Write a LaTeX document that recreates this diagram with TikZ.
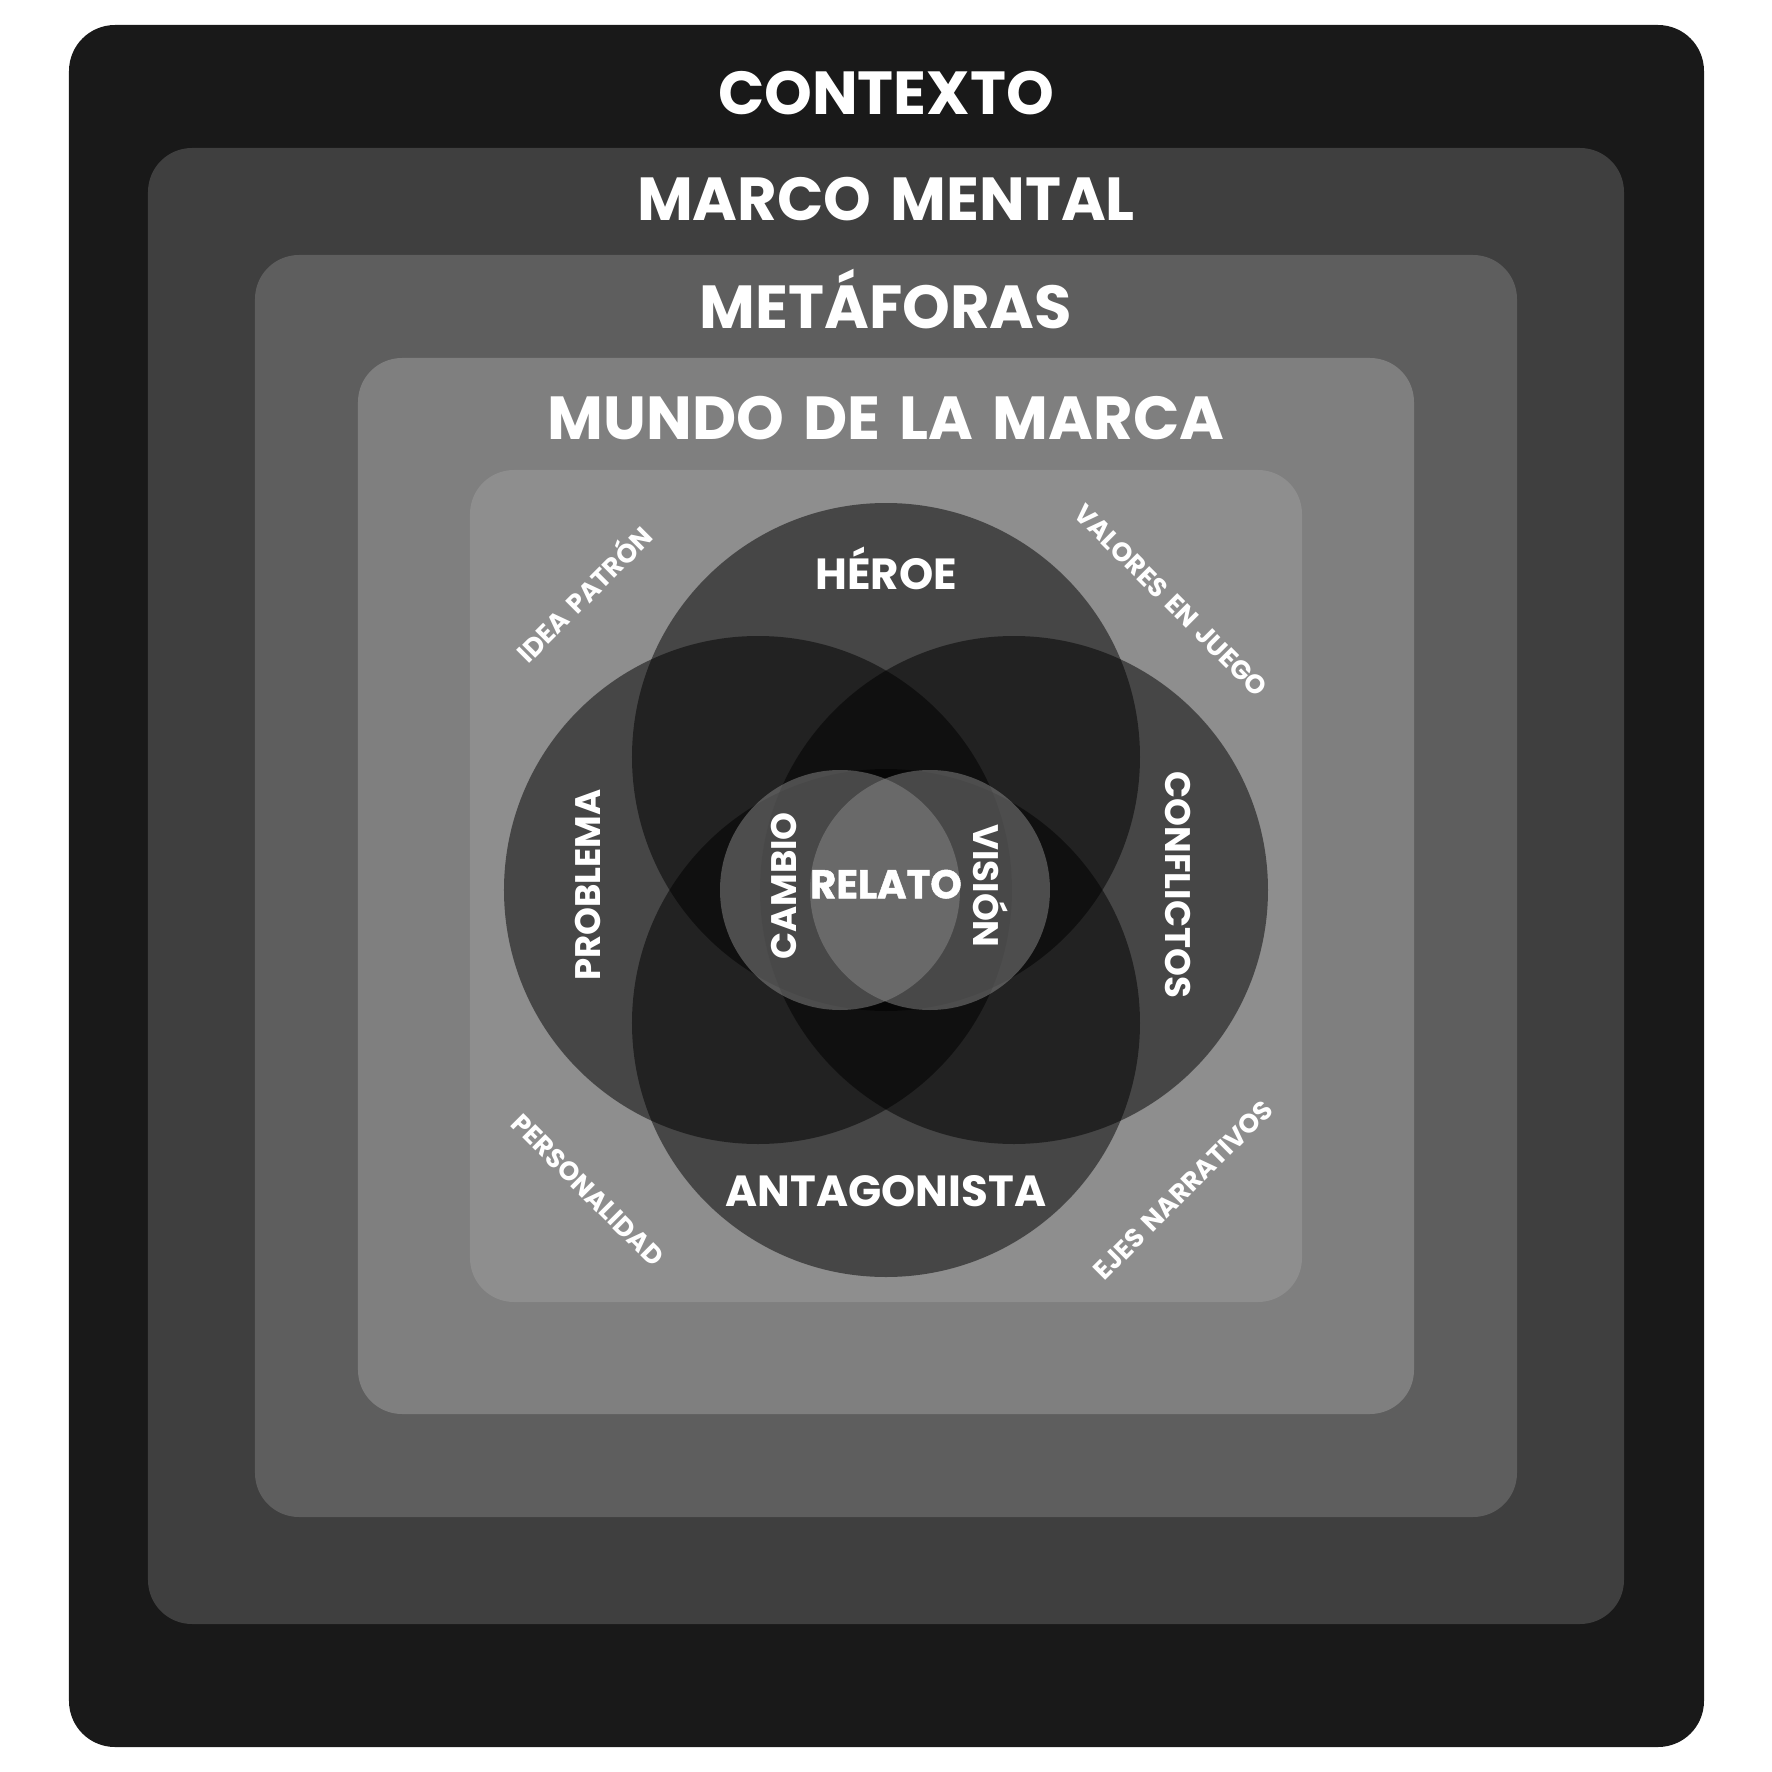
\documentclass[tikz,border=0pt]{standalone}
\usepackage{fontspec}
\setmainfont{Poppins}[WordSpace=1.5]
\definecolor{contexto}{HTML}{191919}
\definecolor{marco}{HTML}{3F3F3F}
\definecolor{metaforas}{HTML}{5E5E5E}
\definecolor{mundo}{HTML}{7F7F7F}
\definecolor{nucleo}{HTML}{8E8E8E}
\tikzset{
  capa/.style={text=white, font=\fontsize{17.3}{17}\selectfont\bfseries, text height=0.7em, text depth=0pt, inner sep=0pt},
  personaje/.style={text=white, font=\fontsize{12.4}{12}\selectfont\bfseries, text height=0.7em, text depth=0pt, inner sep=0pt},
  lado/.style={text=white, font=\fontsize{10.1}{10}\selectfont\bfseries, text height=0.7em, text depth=0pt, inner sep=0pt},
  eje/.style={text=white, font=\fontsize{7.5}{7}\selectfont\bfseries, text height=0.7em, text depth=0pt, inner sep=0pt},
  grande/.style={fill=black, fill opacity=0.5},
  chico/.style={fill=nucleo!97!black, fill opacity=0.5}
}

\begin{document}
\begin{tikzpicture}
                \useasboundingbox (-8.86,-8.86) rectangle (8.86,8.86);
                \fill[contexto, rounded corners=0.46cm] (-8.17,-8.61) rectangle (8.18,8.61);
                \fill[marco, rounded corners=0.44cm] (-7.38,-7.38) rectangle (7.38,7.38);
                \fill[metaforas, rounded corners=0.44cm] (-6.31,-6.31) rectangle (6.31,6.31);
                \fill[mundo, rounded corners=0.44cm] (-5.28,-5.28) rectangle (5.28,5.28);
                \fill[nucleo, rounded corners=0.44cm] (-4.16,-4.16) rectangle (4.16,4.16);
                \fill[grande] (0, 1.29) circle (2.54cm);
                \fill[grande] (0,-1.37) circle (2.54cm);
                \fill[grande] (-1.28,-0.04) circle (2.54cm);
                \fill[grande] (1.28,-0.04) circle (2.54cm);
                \fill[chico] (-0.46,-0.04) circle (1.2cm);
                \fill[chico] (0.44,-0.04) circle (1.2cm);
                \node[capa] (contexto) at (0, 7.84) {CONTEXTO};
                \node[capa] (marco) at (0, 6.78) {MARCO MENTAL};
                \node[capa] (metaforas) at (0, 5.70) {METÁFORAS};
                \node[capa] (mundo) at (0, 4.59) {MUNDO DE LA MARCA};
                \node[personaje] (heroe) at (0, 3.09) {HÉROE};
                \node[personaje] (antagonista) at (0,-3.08) {ANTAGONISTA};
                \node[lado, rotate=90] (problema) at (-2.98, 0.01) {PROBLEMA};
                \node[lado, rotate=-90] (conflictos) at (2.92, 0.01) {CONFLICTOS};
                \node[lado, rotate=90] (cambio) at (-1.02, 0.0) {CAMBIO};
                \node[lado, rotate=-90] (vision) at (1.0, 0.0) {VISIÓN};
                \node[personaje, font=\fontsize{11.4}{11}\selectfont\bfseries\addfontfeatures{FakeBold=1.2}] (relato) at (0, 0.0) {RELATO};
                \node[eje, rotate=45] (idea) at (-3.03, 2.93) {IDEA PATRÓN};
                \node[eje, rotate=-45] (valores) at (2.87, 2.88) {VALORES EN JUEGO};
                \node[eje, rotate=-45] (personalidad) at (-2.96,-3.02) {PERSONALIDAD};
                \node[eje, rotate=45] (ejes) at (2.95,-3.02) {EJES NARRATIVOS};

            \end{tikzpicture}
\end{document}
